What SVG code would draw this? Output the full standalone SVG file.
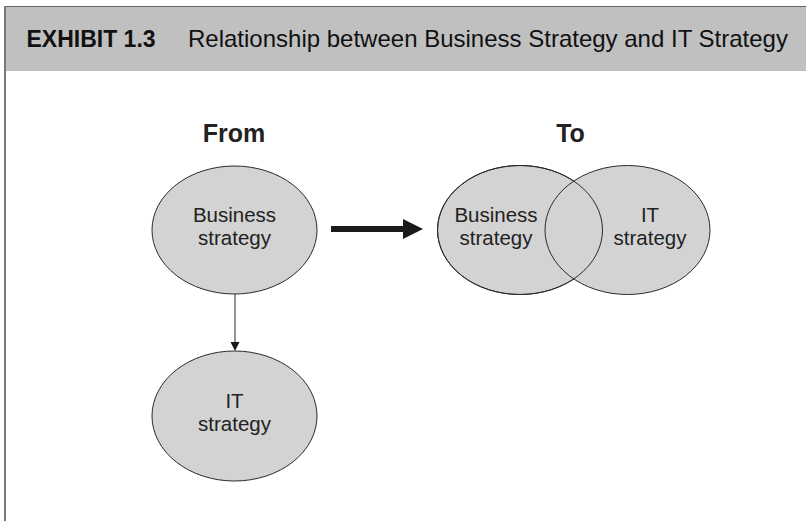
<svg xmlns="http://www.w3.org/2000/svg" width="806" height="521" viewBox="0 0 806 521">
<style>
.node{fill:#d3d3d3;stroke:#2a2a2a;stroke-width:1}
.outline{fill:none;stroke:#2a2a2a;stroke-width:1}
.lbl{font-family:"Liberation Sans",Arial,sans-serif;font-size:20.5px;fill:#222;text-anchor:middle}
.head{font-family:"Liberation Sans",Arial,sans-serif;font-size:25px;font-weight:bold;fill:#222;text-anchor:middle}
.title{font-family:"Liberation Sans",Arial,sans-serif;fill:#111}
</style>
<rect x="0" y="0" width="806" height="521" fill="#ffffff"/>
<g id="header">
<rect x="4" y="7" width="802" height="64" fill="#c0c0c0"/>
<line x1="4" y1="6.5" x2="806" y2="6.5" stroke="#666" stroke-width="1"/>
<line x1="5" y1="6" x2="5" y2="521" stroke="#777" stroke-width="2"/>
<text class="title" x="26.5" y="46.5" style="font-size:23px;font-weight:bold">EXHIBIT 1.3</text>
<text class="title" x="188" y="46.5" style="font-size:24px">Relationship between Business Strategy and IT Strategy</text>
</g>
<text class="head" x="234" y="142">From</text>
<text class="head" x="570.5" y="142">To</text>
<g id="from-business">
<ellipse class="node" cx="234.5" cy="230" rx="82.5" ry="64"/>
<text class="lbl" x="234.5" y="222">Business</text>
<text class="lbl" x="234.5" y="245">strategy</text>
</g>
<g id="from-it">
<ellipse class="node" cx="234.5" cy="416" rx="82.5" ry="65"/>
<text class="lbl" x="234.5" y="407.5">IT</text>
<text class="lbl" x="234.5" y="430.5">strategy</text>
</g>
<g id="to-business">
<ellipse class="node" cx="520" cy="230" rx="82.5" ry="64.5"/>
<text class="lbl" x="496" y="222">Business</text>
<text class="lbl" x="496" y="245">strategy</text>
</g>
<g id="to-it">
<ellipse class="node" cx="627.5" cy="230" rx="82.5" ry="64.5"/>
<ellipse class="outline" cx="520" cy="230" rx="82.5" ry="64.5"/>
<text class="lbl" x="650" y="222">IT</text>
<text class="lbl" x="650" y="245">strategy</text>
</g>
<g id="connectors">
<line x1="235" y1="294" x2="235" y2="343" stroke="#2a2a2a" stroke-width="1"/>
<polygon points="230.5,342 239.5,342 235,351" fill="#1a1a1a"/>
<rect x="331" y="226" width="74" height="6" fill="#1a1a1a"/>
<polygon points="403,219 423,229 403,239" fill="#1a1a1a"/>
</g>
</svg>
